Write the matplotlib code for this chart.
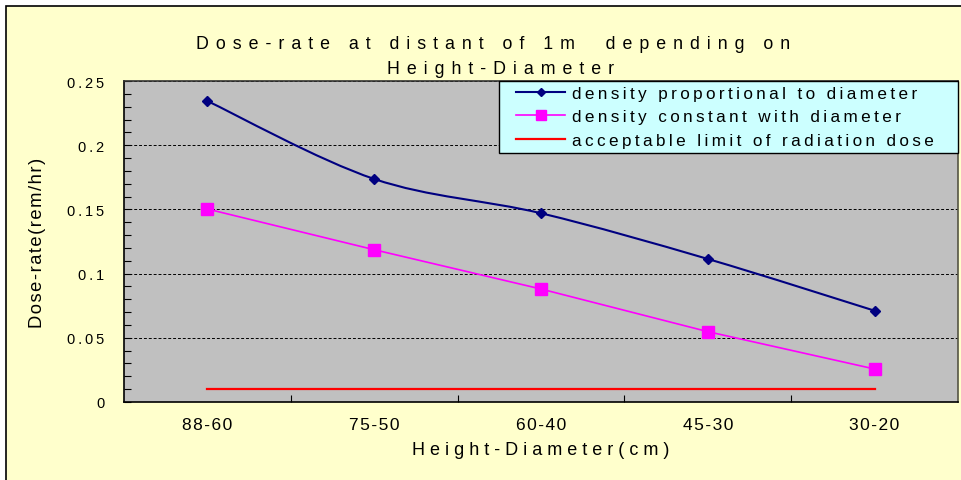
import numpy as np
import matplotlib
matplotlib.use('Agg')
import matplotlib.pyplot as plt
from matplotlib.path import Path
from matplotlib.patches import PathPatch, Rectangle
from matplotlib.lines import Line2D
from matplotlib.legend_handler import HandlerLine2D
from matplotlib.ticker import MultipleLocator

categories = ['88-60', '75-50', '60-40', '45-30', '30-20']
prop_dose = [0.2344, 0.1737, 0.1470, 0.1114, 0.0711]
const_dose = [0.1503, 0.1186, 0.0880, 0.0548, 0.0257]
limit_dose = [0.01, 0.01, 0.01, 0.01, 0.01]
y_ticks = [0, 0.05, 0.1, 0.15, 0.2, 0.25]
y_tick_labels = ['0', '0.05', '0.1', '0.15', '0.2', '0.25']
series_names = ['density proportional to diameter',
                'density constant with diameter',
                'acceptable limit of radiation dose']

plt.rcParams['font.family'] = ['Liberation Sans', 'DejaVu Sans']

THIN = '\u2009'
HAIR = '\u200a'


def spread(s, gap):
    # letter spacing the old spreadsheet way
    return gap.join(s)


def smooth_path(xs, ys):
    # catmull-rom style bezier through the points (spreadsheet "smoothed line")
    pts = np.column_stack([xs, ys]).astype(float)
    n = len(pts)
    verts = [pts[0]]
    codes = [Path.MOVETO]
    for i in range(n - 1):
        p_prev = pts[i - 1] if i > 0 else pts[i]
        p_next = pts[i + 2] if i + 2 < n else pts[i + 1]
        c1 = pts[i] + (pts[i + 1] - p_prev) / 6
        c2 = pts[i + 1] - (p_next - pts[i]) / 6
        verts += [c1, c2, pts[i + 1]]
        codes += [Path.CURVE4] * 3
    return Path(verts, codes)


fig = plt.figure(figsize=(9.61, 4.81), dpi=100, facecolor='white')
fig.patches.append(Rectangle((6 / 961, -0.05), 1.0, (481 - 7) / 481 + 0.05,
                             transform=fig.transFigure, facecolor='#FFFFCC',
                             edgecolor='black', lw=1.2, zorder=-10))

ax = fig.add_axes([124 / 961, 78 / 481, 834 / 961, 321 / 481])
ax.set_facecolor('#C0C0C0')
x = np.arange(len(categories))
ax.set_xlim(-0.5, len(categories) - 0.5)
ax.set_ylim(0, 0.25)

ax.set_yticks(y_ticks)
ax.set_yticklabels([spread(t, THIN) for t in y_tick_labels])
ax.yaxis.set_minor_locator(MultipleLocator(0.01))
ax.tick_params(axis='y', which='both', direction='in', length=5, width=0.8,
               pad=14, labelsize=10.5)
ax.yaxis.grid(True, which='major', color='black', ls=(0, (3, 2)), lw=0.7)
ax.set_axisbelow(True)

ax.set_xticks(x)
ax.set_xticklabels([spread(c, HAIR) for c in categories])
ax.set_xticks(x[:-1] + 0.5, minor=True)
ax.tick_params(axis='x', which='major', length=0, pad=11, labelsize=12.5)
ax.tick_params(axis='x', which='minor', direction='in', length=5, width=0.8)

for s in ax.spines.values():
    s.set_linewidth(1.2)
    s.set_color('black')
ax.spines['right'].set_color('#555544')
ax.spines['top'].set_color('#333333')

# dose curves
ax.add_patch(PathPatch(smooth_path(x, prop_dose), facecolor='none',
                       edgecolor='#000080', lw=1.5, zorder=3))
ax.plot(x, prop_dose, ls='none', marker='D', ms=5.5, color='#000080', zorder=4)
ax.plot(x, const_dose, color='#FF00FF', lw=1.2, marker='s', ms=8, zorder=4)
ax.plot(x, limit_dose, color='#FF0000', lw=1.6, zorder=3)

handles = [Line2D([], [], color='#000080', lw=1.5, marker='D', ms=4.5),
           Line2D([], [], color='#FF00FF', lw=1.2, marker='s', ms=7),
           Line2D([], [], color='#FF0000', lw=1.6)]
leg = ax.legend(handles, [spread(n, THIN) for n in series_names],
                loc='upper left', bbox_to_anchor=(0.4496, 0, 0.5504, 1),
                mode='expand', borderaxespad=0,
                fancybox=False, framealpha=1, facecolor='#CCFFFF',
                edgecolor='black', fontsize=12.3, borderpad=0.3,
                labelspacing=0.48, handlelength=3.55, handletextpad=0.4,
                handler_map={Line2D: HandlerLine2D(xpad=0.72)})
leg.get_frame().set_linewidth(1.0)

ax.set_xlabel(spread('Height-Diameter(cm)', ' '), fontsize=13, labelpad=6)
ax.set_ylabel(spread('Dose-rate(rem/hr)', HAIR), fontsize=13.2, labelpad=15)

fig.text(493 / 961, 1 - 45 / 481,
         spread('Dose-rate at distant of 1m  depending on', THIN + THIN),
         ha='center', va='center', fontsize=12.8)
fig.text(501 / 961, 1 - 70 / 481, spread('Height-Diameter', THIN + THIN),
         ha='center', va='center', fontsize=12.8)

fig.savefig('out.png', dpi=100)
